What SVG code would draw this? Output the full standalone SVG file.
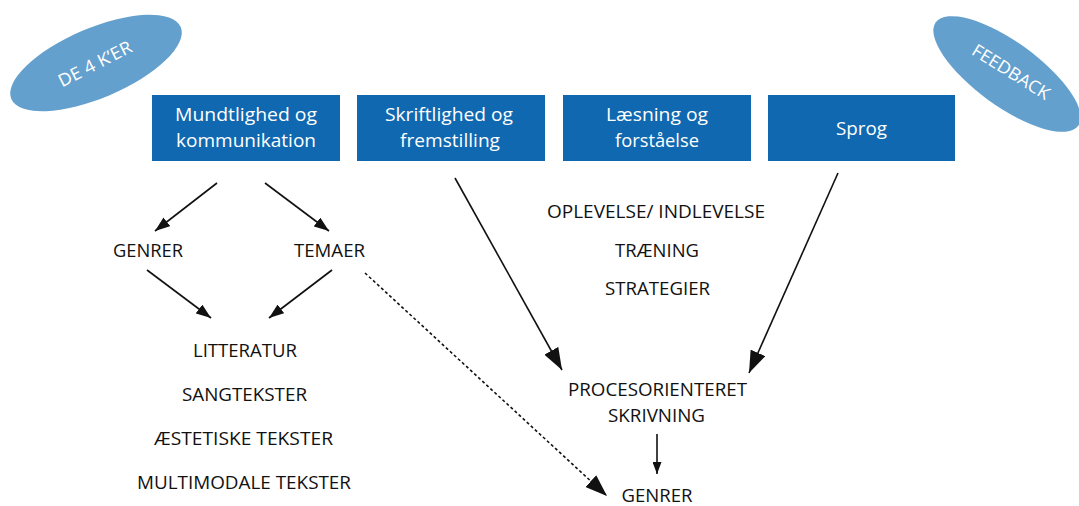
<svg xmlns="http://www.w3.org/2000/svg" width="1079" height="506" viewBox="0 0 1079 506">
<defs>
<style>
.box{fill:#0f68b0}
.ell{fill:#64a0cd}
.bt{font-family:"Open Sans","Noto Sans",sans-serif;font-size:19px;fill:#ffffff;text-anchor:middle}
.et{font-family:"Open Sans","Noto Sans",sans-serif;font-size:17.5px;fill:#ffffff;text-anchor:middle}
.t{font-family:"Open Sans","Noto Sans",sans-serif;font-size:19px;fill:#111111;text-anchor:middle}
.ln{stroke:#111111;stroke-width:1.6;fill:none}
.dash{stroke-dasharray:3 2.5}
</style>
<marker id="ms" markerUnits="userSpaceOnUse" markerWidth="15" markerHeight="11" refX="15" refY="5.5" orient="auto"><path d="M0,0 L15,5.5 L0,11 z" fill="#111111"/></marker>
<marker id="ml" markerUnits="userSpaceOnUse" markerWidth="22" markerHeight="16" refX="22" refY="8" orient="auto"><path d="M0,0 L22,8 L0,16 z" fill="#111111"/></marker>
<marker id="mt" markerUnits="userSpaceOnUse" markerWidth="12" markerHeight="9" refX="12" refY="4.5" orient="auto"><path d="M0,0 L12,4.5 L0,9 z" fill="#111111"/></marker>
</defs>
<rect width="1079" height="506" fill="#ffffff"/>

<g id="ellipse-de4ker">
<ellipse class="ell" cx="96" cy="63" rx="92" ry="35" transform="rotate(-23 96 63)"/>
<text class="et" x="95" y="64" dy="6" textLength="80" lengthAdjust="spacingAndGlyphs" transform="rotate(-27 95 64)">DE 4 K’ER</text>
</g>
<g id="ellipse-feedback">
<ellipse class="ell" cx="1007" cy="74" rx="88" ry="32" transform="rotate(36 1007 74)"/>
<text class="et" x="1011" y="72" dy="6" textLength="88" lengthAdjust="spacingAndGlyphs" transform="rotate(32 1011 72)">FEEDBACK</text>
</g>

<g id="box-mundtlighed">
<rect class="box" x="152" y="95" width="188" height="66"/>
<text class="bt" x="246" y="121" textLength="142" lengthAdjust="spacingAndGlyphs">Mundtlighed og</text>
<text class="bt" x="246" y="147" textLength="140" lengthAdjust="spacingAndGlyphs">kommunikation</text>
</g>
<g id="box-skriftlighed">
<rect class="box" x="357" y="95" width="188" height="66"/>
<text class="bt" x="449" y="121" textLength="128" lengthAdjust="spacingAndGlyphs">Skriftlighed og</text>
<text class="bt" x="450" y="147" textLength="100" lengthAdjust="spacingAndGlyphs">fremstilling</text>
</g>
<g id="box-laesning">
<rect class="box" x="563" y="95" width="188" height="66"/>
<text class="bt" x="657" y="121" textLength="102" lengthAdjust="spacingAndGlyphs">Læsning og</text>
<text class="bt" x="657" y="147" textLength="84" lengthAdjust="spacingAndGlyphs">forståelse</text>
</g>
<g id="box-sprog">
<rect class="box" x="768" y="95" width="187" height="66"/>
<text class="bt" x="861.5" y="135" textLength="51" lengthAdjust="spacingAndGlyphs">Sprog</text>
</g>

<g id="genrer-left"><text class="t" x="148" y="257" textLength="70" lengthAdjust="spacingAndGlyphs">GENRER</text></g>
<g id="temaer"><text class="t" x="329.5" y="257" textLength="71" lengthAdjust="spacingAndGlyphs">TEMAER</text></g>
<g id="center-list">
<text class="t" x="656" y="218" textLength="218" lengthAdjust="spacingAndGlyphs">OPLEVELSE/ INDLEVELSE</text>
<text class="t" x="657" y="257" textLength="84" lengthAdjust="spacingAndGlyphs">TRÆNING</text>
<text class="t" x="657.5" y="295" textLength="105" lengthAdjust="spacingAndGlyphs">STRATEGIER</text>
</g>
<g id="text-list">
<text class="t" x="245" y="357" textLength="104" lengthAdjust="spacingAndGlyphs">LITTERATUR</text>
<text class="t" x="244.5" y="401" textLength="125" lengthAdjust="spacingAndGlyphs">SANGTEKSTER</text>
<text class="t" x="243.5" y="445" textLength="179" lengthAdjust="spacingAndGlyphs">ÆSTETISKE TEKSTER</text>
<text class="t" x="244" y="489" textLength="214" lengthAdjust="spacingAndGlyphs">MULTIMODALE TEKSTER</text>
</g>
<g id="procesorienteret">
<text class="t" x="657.5" y="396" textLength="179" lengthAdjust="spacingAndGlyphs">PROCESORIENTERET</text>
<text class="t" x="656.5" y="422" textLength="97" lengthAdjust="spacingAndGlyphs">SKRIVNING</text>
</g>
<g id="genrer-bottom"><text class="t" x="657" y="502" textLength="71" lengthAdjust="spacingAndGlyphs">GENRER</text></g>

<g id="connectors">
<line class="ln" x1="217" y1="183" x2="155" y2="231" marker-end="url(#ms)"/>
<line class="ln" x1="265" y1="183" x2="329" y2="231" marker-end="url(#ms)"/>
<line class="ln" x1="147" y1="270" x2="211" y2="318" marker-end="url(#ms)"/>
<line class="ln" x1="332" y1="270" x2="269" y2="318" marker-end="url(#ms)"/>
<line class="ln dash" x1="365" y1="273" x2="607" y2="496" marker-end="url(#ml)"/>
<line class="ln" x1="455" y1="178" x2="562" y2="370" marker-end="url(#ml)"/>
<line class="ln" x1="838" y1="173" x2="749" y2="373" marker-end="url(#ml)"/>
<line class="ln" x1="657" y1="434" x2="657" y2="474" marker-end="url(#mt)"/>
</g>
</svg>
